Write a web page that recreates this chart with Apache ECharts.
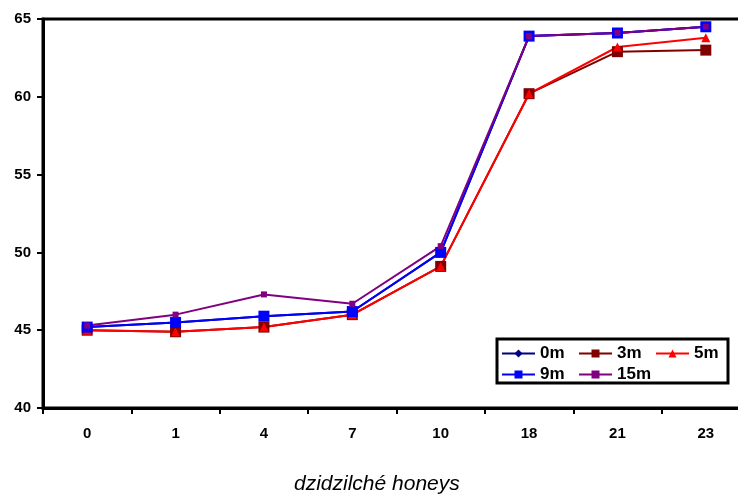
<!DOCTYPE html>
<html>
<head>
<meta charset="utf-8">
<script src="https://cdn.jsdelivr.net/npm/echarts@6/dist/echarts.min.js"></script>
<style>
html,body{margin:0;padding:0;background:#fff;overflow:hidden;}
/* canvas is a bit wider than the window so the plot runs off the right edge */
#chart{width:750px;height:498px;}
</style>
</head>
<body>
<div id="chart"></div>
<script>
// Sampling days (category axis)
const days = ['0', '1', '4', '7', '10', '18', '21', '23'];

// Series values per depth
const depth0m  = [45.2, 45.5, 45.9, 46.2, 50.0, 63.9, 64.1, 64.5];
const depth3m  = [45.0, 44.9, 45.2, 46.0, 49.1, 60.2, 62.9, 63.0];
const depth5m  = [45.0, 44.9, 45.2, 46.0, 49.1, 60.2, 63.2, 63.8];
const depth9m  = [45.2, 45.5, 45.9, 46.2, 50.0, 63.9, 64.1, 64.5];
const depth15m = [45.3, 46.0, 47.3, 46.7, 50.4, 63.9, 64.1, 64.5];

// Y axis range and step
const yMin = 40, yMax = 65, yStep = 5;

const labelFont = { fontFamily: 'Liberation Sans, Arial, sans-serif', fontWeight: 'bold', fontSize: 15, color: '#000' };

function mkSeries(name, data, color, symbol, size) {
  return {
    name: name,
    type: 'line',
    data: data,
    symbol: symbol,
    symbolSize: size,
    showSymbol: true,
    itemStyle: { color: color, borderWidth: 0 },
    lineStyle: { color: color, width: 2 },
    emphasis: { disabled: true },
    animation: false
  };
}

const chart = echarts.init(document.getElementById('chart'), null, { renderer: 'canvas' });
chart.setOption({
  backgroundColor: '#fff',
  animation: false,
  title: {
    text: 'dzidzilché honeys',
    left: 294,
    top: 474,
    padding: 0,
    textStyle: { fontFamily: 'Liberation Sans, Arial, sans-serif', fontStyle: 'italic', fontWeight: 'normal', fontSize: 21, color: '#000' }
  },
  grid: {
    left: 43, right: 0, top: 19, height: 389,
    show: true, borderColor: '#000', borderWidth: 3, backgroundColor: 'transparent'
  },
  legend: {
    left: 497, top: 339,
    width: 232,
    orient: 'horizontal',
    padding: [6, 0, 0, 4],
    itemGap: 4,
    itemWidth: 33,
    itemHeight: 10,
    borderColor: '#000',
    borderWidth: 3,
    backgroundColor: '#fff',
    textStyle: Object.assign({}, labelFont, { fontSize: 17, width: 34, lineHeight: 17 }),
    data: ['0m', '3m', '5m', '9m', '15m']
  },
  xAxis: {
    type: 'category',
    data: days,
    boundaryGap: true,
    axisLine: { lineStyle: { color: '#000', width: 3 } },
    axisTick: { show: true, inside: false, length: 6, lineStyle: { color: '#000', width: 2 } },
    axisLabel: Object.assign({}, labelFont, { margin: 18 }),
    splitLine: { show: false }
  },
  yAxis: {
    type: 'value',
    min: yMin, max: yMax, interval: yStep,
    axisLine: { show: true, lineStyle: { color: '#000', width: 3 } },
    axisTick: { show: true, length: 6, lineStyle: { color: '#000', width: 2 } },
    axisLabel: Object.assign({}, labelFont, { margin: 12 }),
    splitLine: { show: false }
  },
  series: [
    mkSeries('0m', depth0m, '#000080', 'diamond', 8),
    mkSeries('3m', depth3m, '#800000', 'rect', 11),
    mkSeries('5m', depth5m, '#FF0000', 'triangle', 9),
    mkSeries('9m', depth9m, '#0000FF', 'rect', 11),
    mkSeries('15m', depth15m, '#800080', 'rect', 6)
  ]
});
</script>
</body>
</html>
